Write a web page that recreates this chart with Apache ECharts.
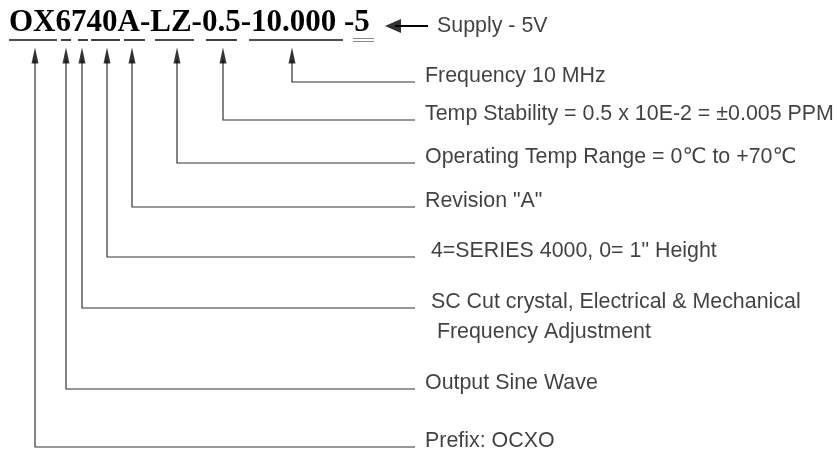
<!DOCTYPE html>
<html>
<head>
<meta charset="utf-8">
<script src="https://cdn.jsdelivr.net/npm/echarts@6/dist/echarts.min.js"></script>
<style>
html,body{margin:0;padding:0;background:#fff;}
#chart{width:837px;height:453px;}
</style>
</head>
<body>
<div id="chart"></div>
<script>
// ---- data ----
const codeParts = ['OX', '6', '7', '40', 'A', 'LZ', '0.5', '10.000', '-5'];
const underlineStart = [9, 61, 78, 91, 124, 155, 206, 249];
const underlineEnd = [57, 71, 88, 120, 145, 194, 237, 343];
const supplyUnderline = [353, 374];
const arrowX = [292, 223, 177, 132, 107, 82, 66, 35];
const leaderY = [82, 120, 163, 207, 257, 308, 389, 447];
const descriptions = [
  'Frequency 10 MHz',
  'Temp Stability = 0.5 x 10E-2 = \u00b10.005 PPM',
  'Operating Temp Range = 0\u2103 to +70\u2103',
  'Revision "A"',
  ' 4=SERIES 4000, 0= 1" Height',
  ' SC Cut crystal, Electrical & Mechanical\n  Frequency Adjustment',
  'Output Sine Wave',
  'Prefix: OCXO'
];
const supplyText = 'Supply - 5V';

// ---- layout constants ----
const lineEndX = 415;
const arrowTipY = 48, arrowBaseY = 63;
const underlineY = 40;
const supplyY = 26;
const supplyArrow = [385, 428];

const sansFont = '"Liberation Sans", Arial, "DejaVu Sans", "Noto Sans CJK SC", sans-serif';

const chart = echarts.init(document.getElementById('chart'), null, {renderer: 'canvas'});

const connectorData = arrowX.map((x, i) => ({
  coords: [[x, arrowBaseY - 3], [x, leaderY[i]], [lineEndX, leaderY[i]]]
}));

const underlineData = underlineStart.map((s, i) => ({coords: [[s, underlineY], [underlineEnd[i], underlineY]]}));

const labelData = descriptions.map((d, i) => {
  const lines = d.split('\n').length;
  return {
    value: [lineEndX, leaderY[i]],
    name: d,
    label: {offset: [0, -5.5 + (lines - 1) * 15]}
  };
});

const headerText = codeParts[0] + codeParts[1] + codeParts[2] + codeParts[3] + codeParts[4] + '-' +
  codeParts[5] + '-' + codeParts[6] + '-' + codeParts[7] + ' ' + codeParts[8];

const option = {
  animation: false,
  backgroundColor: '#ffffff',
  grid: {left: 0, right: 0, top: 0, bottom: 0},
  xAxis: {type: 'value', min: 0, max: 837, show: false},
  yAxis: {type: 'value', min: 0, max: 453, inverse: true, show: false},
  graphic: [{
    type: 'text',
    left: 9,
    top: 7,
    style: {
      text: headerText,
      font: 'bold 31px "Liberation Serif", "Times New Roman", serif',
      fill: '#000'
    }
  }],
  series: [
    {
      type: 'lines',
      coordinateSystem: 'cartesian2d',
      polyline: true,
      silent: true,
      lineStyle: {color: '#333', width: 1.2, opacity: 1},
      data: connectorData
    },
    {
      type: 'lines',
      coordinateSystem: 'cartesian2d',
      silent: true,
      lineStyle: {color: '#111', width: 1.6, opacity: 1},
      data: underlineData.concat([{coords: [[supplyArrow[0] + 10, supplyY], [supplyArrow[1], supplyY]], lineStyle: {width: 2, color: '#000'}}])
    },
    {
      type: 'lines',
      coordinateSystem: 'cartesian2d',
      silent: true,
      lineStyle: {color: '#888', width: 1, opacity: 1},
      data: [
        {coords: [[supplyUnderline[0], underlineY - 1.5], [supplyUnderline[1], underlineY - 1.5]]},
        {coords: [[supplyUnderline[0], underlineY + 1], [supplyUnderline[1], underlineY + 1]]}
      ]
    },
    {
      type: 'scatter',
      silent: true,
      symbol: 'triangle',
      symbolSize: [7, 16],
      itemStyle: {color: '#000'},
      data: arrowX.map(x => [x, (arrowTipY + arrowBaseY) / 2])
    },
    {
      type: 'scatter',
      silent: true,
      symbol: 'triangle',
      symbolRotate: 90,
      symbolSize: [14, 16],
      itemStyle: {color: '#000'},
      data: [{value: [supplyArrow[0] + 8, supplyY], name: supplyText}],
      label: {
        show: true,
        position: 'right',
        distance: 0,
        offset: [36, 0.5],
        formatter: '{b}',
        fontFamily: sansFont,
        fontSize: 21.4,
        color: '#111'
      }
    },
    {
      type: 'scatter',
      silent: true,
      symbolSize: 0,
      itemStyle: {color: 'transparent'},
      data: labelData,
      label: {
        show: true,
        position: 'right',
        distance: 10,
        formatter: '{b}',
        fontFamily: sansFont,
        fontSize: 21.4,
        lineHeight: 30,
        color: '#111'
      }
    }
  ]
};
chart.setOption(option);
</script>
</body>
</html>
